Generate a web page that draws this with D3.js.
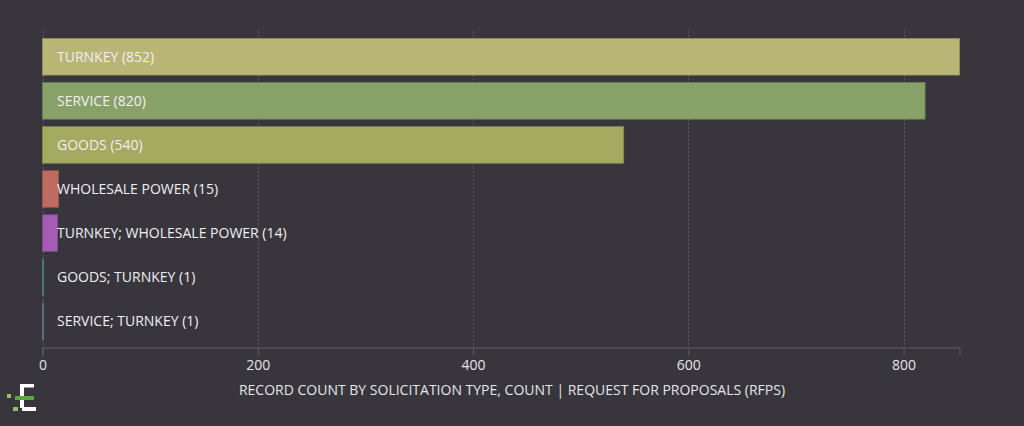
<!DOCTYPE html>
<html>
<head>
<meta charset="utf-8">
<script src="https://cdn.jsdelivr.net/npm/d3@7"></script>
<style>
  html, body { margin: 0; padding: 0; background: #38353c; }
  svg { display: block; font-family: "Open Sans", "Noto Sans", sans-serif; }
</style>
</head>
<body>
<svg id="chart"></svg>
<script>
var categories = ["TURNKEY", "SERVICE", "GOODS", "WHOLESALE POWER", "TURNKEY; WHOLESALE POWER", "GOODS; TURNKEY", "SERVICE; TURNKEY"]
var counts = [852, 820, 540, 15, 14, 1, 1]
var barColors = ["#b9b575", "#88a168", "#a4aa5f", "#c06b62", "#a45db2", "#5f9c93", "#6e8fae"]
var tickValues = [0, 200, 400, 600, 800]
var axisTitle = "RECORD COUNT BY SOLICITATION TYPE, COUNT | REQUEST FOR PROPOSALS (RFPS)"

var width = 1024
height = 426

var svg = d3.select("#chart")
    .attr("width", width)
    .attr("height", height)

svg.append("rect")
    .attr("width", width)
    .attr("height", height)
    .attr("fill", "#38353c")

var xScale = d3.scaleLinear()
    .domain([0, d3.max(counts)])
    .range([42.5, 959.5])

var yScale = d3.scaleBand()
    .domain(categories)
    .range([31, 347])
    .paddingInner(0.17)
    .paddingOuter(0.17)

// dotted gridlines
svg.append("g")
    .selectAll("line")
    .data(tickValues)
    .enter()
    .append("line")
    .attr("x1", d => Math.round(xScale(d)) + 0.5)
    .attr("x2", d => Math.round(xScale(d)) + 0.5)
    .attr("y1", 31)
    .attr("y2", 347)
    .attr("stroke", "#5c5962")
    .attr("stroke-width", 1)
    .attr("stroke-dasharray", "2,2")

// bars
svg.append("g")
    .selectAll("rect")
    .data(counts)
    .enter()
    .append("rect")
    .attr("x", xScale(0))
    .attr("y", (d, i) => yScale(categories[i]))
    .attr("width", d => Math.max(1, xScale(d) - xScale(0)))
    .attr("height", yScale.bandwidth())
    .attr("fill", (d, i) => barColors[i])
    .attr("stroke", (d, i) => d3.color(barColors[i]).darker(0.6))
    .attr("stroke-width", 0.8)

// bar labels
svg.append("g")
    .selectAll("text")
    .data(counts)
    .enter()
    .append("text")
    .attr("x", 57)
    .attr("y", (d, i) => yScale(categories[i]) + yScale.bandwidth() / 2)
    .attr("dy", "0.36em")
    .attr("fill", "#f0eff2")
    .style("font-size", "14px")
    .text((d, i) => categories[i] + " (" + d + ")")

// x axis
var xAxis = svg.append("g")
    .attr("transform", "translate(0,347.5)")
    .call(d3.axisBottom(xScale).tickValues(tickValues).tickSize(8).tickSizeOuter(8).tickPadding(5))

xAxis.select(".domain").attr("stroke", "#5f5c65")
xAxis.selectAll(".tick line").attr("stroke", "#5f5c65")
xAxis.selectAll(".tick text")
    .attr("fill", "#e6e5e9")
    .style("font-size", "14px")
    .style("font-family", "\"Open Sans\", \"Noto Sans\", sans-serif")

svg.append("text")
    .attr("x", 512)
    .attr("y", 390)
    .attr("dy", "0.36em")
    .attr("text-anchor", "middle")
    .attr("fill", "#e6e5e9")
    .style("font-size", "14px")
    .text(axisTitle)

// little logo bottom left
var logo = svg.append("g")
logo.append("rect").attr("x", 20).attr("y", 384).attr("width", 14).attr("height", 3.5).attr("fill", "#ffffff")
logo.append("rect").attr("x", 20).attr("y", 384).attr("width", 4).attr("height", 24).attr("fill", "#ffffff")
logo.append("rect").attr("x", 7).attr("y", 394).attr("width", 4).attr("height", 4).attr("fill", "#8fc463")
logo.append("rect").attr("x", 15).attr("y", 396).attr("width", 19).attr("height", 4).attr("fill", "#5ca64a")
logo.append("rect").attr("x", 13).attr("y", 407).attr("width", 5).attr("height", 4).attr("fill", "#8fc463")
logo.append("rect").attr("x", 22).attr("y", 407).attr("width", 14).attr("height", 4).attr("fill", "#ffffff")
</script>
</body>
</html>
